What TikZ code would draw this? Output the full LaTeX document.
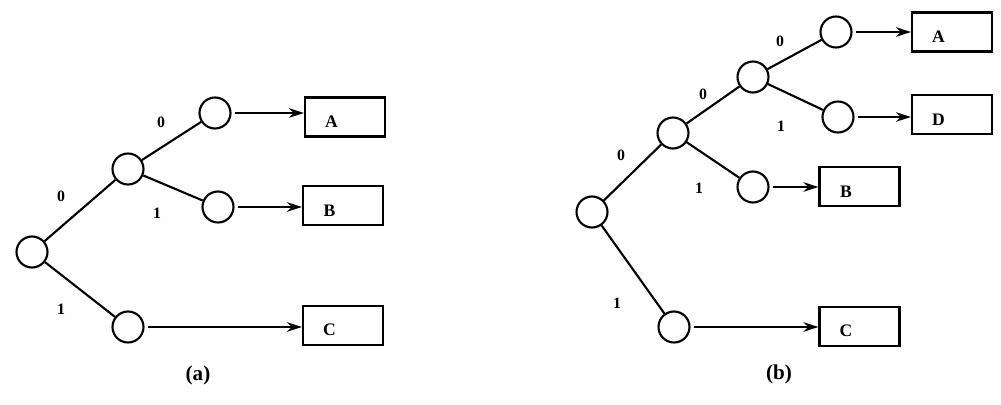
\documentclass[tikz,border=0pt]{standalone}
\usepackage{fontspec}
\setmainfont{Liberation Serif}
\usetikzlibrary{arrows.meta}

\tikzset{
    knot/.style={circle, draw, line width=1.2pt, minimum size=0.62cm, inner sep=0pt},
    leaf/.style={rectangle, draw, line width=1.2pt, minimum width=1.6cm, minimum height=0.78cm, inner sep=0pt},
    bit/.style={font=\small\bfseries},
    tag/.style={label={[anchor=south, xshift=-0.27cm, yshift=0.06cm, font=\normalsize\bfseries]south:#1}},
    toleaf/.style={-{Stealth[length=3mm, width=1.9mm]}, line width=1.2pt, shorten <=2pt}
}

\begin{document}
\begin{tikzpicture}[x=0.02cm, y=-0.02cm, line width=1.2pt]
    \useasboundingbox (0,0) rectangle (1001,405);
    % (a) tree nodes
    \node[knot] (ar) at (32,252) {};
    \node[knot] (a0) at (128,169) {};
    \node[knot] (a00) at (215,113) {};
    \node[knot] (a01) at (218,207) {};
    \node[knot] (a1) at (128,327) {};
    % (a) leaves
    \node[leaf, tag=A] (aA) at (345,117) {};
    \node[leaf, tag=B] (aB) at (343,205.5) {};
    \node[leaf, tag=C] (aC) at (343,325.5) {};
    % (a) branches
    \draw (ar) -- (a0);
    \draw (ar) -- (a1);
    \draw (a0) -- (a00);
    \draw (a0) -- (a01);
    \draw[toleaf] (a00) -- (aA.west |- a00);
    \draw[toleaf] (a01) -- (aB.west |- a01);
    \draw[toleaf] (a1) -- (aC.west |- a1);
    % (a) bits
    \node[bit] at (61,196) {0};
    \node[bit] at (61,309) {1};
    \node[bit] at (161,122) {0};
    \node[bit] at (157,213) {1};
    \node[font=\large\bfseries] at (198,375) {(a)};

    % (b) tree nodes
    \node[knot] (br) at (592,212) {};
    \node[knot] (b0) at (673,133) {};
    \node[knot] (b00) at (753,77) {};
    \node[knot] (b000) at (836,32) {};
    \node[knot] (b001) at (838,117) {};
    \node[knot] (b01) at (753,187) {};
    \node[knot] (b1) at (674,327) {};
    % (b) leaves
    \node[leaf, tag=A] (bA) at (952,32) {};
    \node[leaf, tag=D] (bD) at (952,114.5) {};
    \node[leaf, tag=B] (bB) at (859.5,186.5) {};
    \node[leaf, tag=C] (bC) at (859.5,326.5) {};
    % (b) branches
    \draw (br) -- (b0);
    \draw (br) -- (b1);
    \draw (b0) -- (b00);
    \draw (b0) -- (b01);
    \draw (b00) -- (b000);
    \draw (b00) -- (b001);
    \draw[toleaf] (b000) -- (bA.west |- b000);
    \draw[toleaf] (b001) -- (bD.west |- b001);
    \draw[toleaf] (b01) -- (bB.west |- b01);
    \draw[toleaf] (b1) -- (bC.west |- b1);
    % (b) bits
    \node[bit] at (621,155) {0};
    \node[bit] at (617,303) {1};
    \node[bit] at (703,94) {0};
    \node[bit] at (699,188) {1};
    \node[bit] at (780,41) {0};
    \node[bit] at (781,126) {1};
    \node[font=\large\bfseries] at (779,374) {(b)};
\end{tikzpicture}
\end{document}
